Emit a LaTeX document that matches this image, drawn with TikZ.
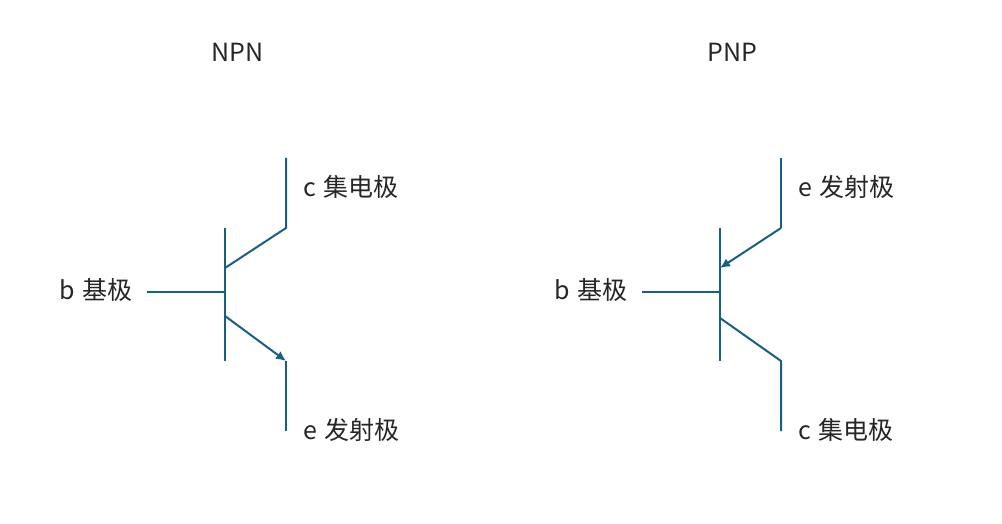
\documentclass[tikz,border=0pt]{standalone}
\usepackage{fontspec}
\setmainfont{Noto Sans CJK SC}[WordSpace=1.35]
\usetikzlibrary{arrows.meta}
\definecolor{wire}{HTML}{175F83}
\tikzset{
 wire/.style={draw=wire,line width=1.5pt},
 lbl/.style={inner sep=0pt,text=black!85,font=\fontsize{18.75}{22}\selectfont,anchor=west},
 ttl/.style={inner sep=0pt,text=black!85,font=\fontsize{18.75}{22}\selectfont},
 tip/.style={-{Latex[length=7.5pt,width=7pt]}}
}
\begin{document}
\begin{tikzpicture}[x=0.75pt,y=-0.75pt]
\useasboundingbox (0,0) rectangle (1002,524);
\node[ttl] (t1) at (237.5,52) {NPN};
\node[ttl] (t2) at (732.5,52) {PNP};
\node[lbl] (c1) at (303,187) {c 集电极};
\node[lbl] (b1) at (59,290) {b 基极};
\node[lbl] (e1) at (303,430) {e 发射极};
\node[lbl] (e2) at (798,187) {e 发射极};
\node[lbl] (b2) at (554,290) {b 基极};
\node[lbl] (c2) at (798,430) {c 集电极};
% NPN
\coordinate (n1) at (147,292);\coordinate (n2) at (225,292);
\coordinate (nt) at (225,228);\coordinate (nb) at (225,361);
\coordinate (nc0) at (286,158);\coordinate (nc1) at (286,228);\coordinate (nc2) at (225,268);
\coordinate (ne0) at (225,316);\coordinate (ne1) at (286,361);\coordinate (ne2) at (286,431);
\draw[wire] (n1)--(n2);
\draw[wire] (nt)--(nb);
\draw[wire] (nc0)--(nc1)--(nc2);
\draw[wire,tip] (ne0)--(ne1);
\draw[wire] (ne1)--(ne2);
% PNP
\coordinate (p1) at (642,292);\coordinate (p2) at (720,292);
\coordinate (pt) at (720,228);\coordinate (pb) at (720,361);
\coordinate (pe0) at (781,158);\coordinate (pe1) at (781,228);\coordinate (pe2) at (720,268);
\coordinate (pc0) at (720,318);\coordinate (pc1) at (781,361);\coordinate (pc2) at (781,431);
\draw[wire] (p1)--(p2);
\draw[wire] (pt)--(pb);
\draw[wire] (pe0)--(pe1);
\draw[wire,tip] (pe1)--(pe2);
\draw[wire] (pc0)--(pc1)--(pc2);
\end{tikzpicture}
\end{document}
